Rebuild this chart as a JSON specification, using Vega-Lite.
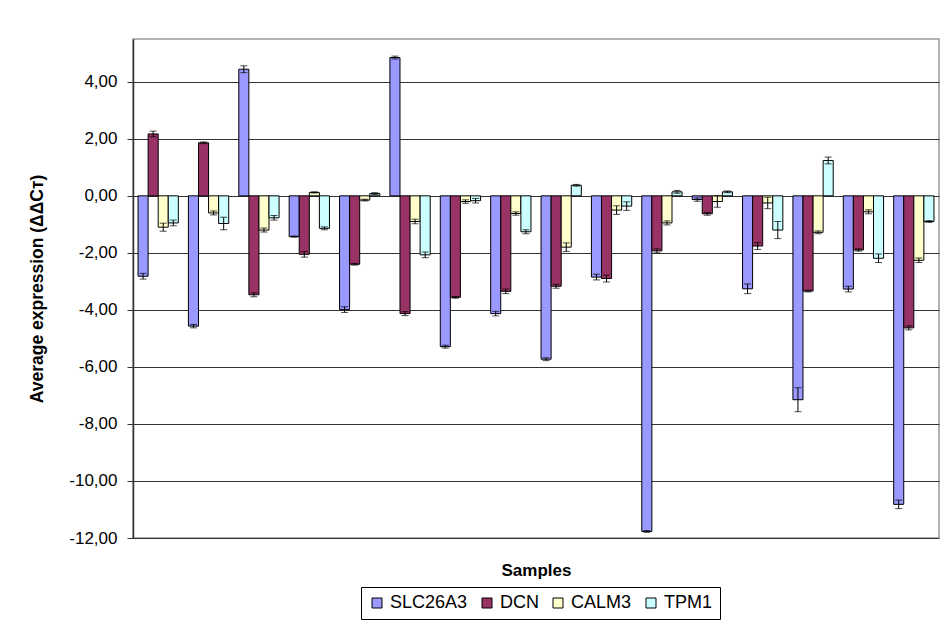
{
  "$schema": "https://vega.github.io/schema/vega-lite/v6.json",
  "width": 806,
  "height": 499,
  "autosize": "none",
  "padding": {"left": 133, "top": 39, "right": 1, "bottom": 94},
  "background": "white",
  "config": {
    "font": "Liberation Sans",
    "view": {"stroke": "#999999", "strokeWidth": 1.5}
  },
  "data": {
    "values": [
      {"s": "S01", "g": "SLC26A3", "v": -2.82, "lo": -2.92, "hi": -2.72},
      {"s": "S01", "g": "DCN", "v": 2.17, "lo": 2.07, "hi": 2.27},
      {"s": "S01", "g": "CALM3", "v": -1.10, "lo": -1.24, "hi": -0.96},
      {"s": "S01", "g": "TPM1", "v": -0.95, "lo": -1.05, "hi": -0.85},
      {"s": "S02", "g": "SLC26A3", "v": -4.57, "lo": -4.63, "hi": -4.51},
      {"s": "S02", "g": "DCN", "v": 1.86, "lo": 1.83, "hi": 1.89},
      {"s": "S02", "g": "CALM3", "v": -0.60, "lo": -0.67, "hi": -0.53},
      {"s": "S02", "g": "TPM1", "v": -0.97, "lo": -1.19, "hi": -0.75},
      {"s": "S03", "g": "SLC26A3", "v": 4.44, "lo": 4.32, "hi": 4.56},
      {"s": "S03", "g": "DCN", "v": -3.47, "lo": -3.54, "hi": -3.40},
      {"s": "S03", "g": "CALM3", "v": -1.20, "lo": -1.27, "hi": -1.13},
      {"s": "S03", "g": "TPM1", "v": -0.77, "lo": -0.85, "hi": -0.69},
      {"s": "S04", "g": "SLC26A3", "v": -1.43, "lo": -1.45, "hi": -1.41},
      {"s": "S04", "g": "DCN", "v": -2.05, "lo": -2.15, "hi": -1.95},
      {"s": "S04", "g": "CALM3", "v": 0.12, "lo": 0.10, "hi": 0.14},
      {"s": "S04", "g": "TPM1", "v": -1.14, "lo": -1.19, "hi": -1.09},
      {"s": "S05", "g": "SLC26A3", "v": -3.99, "lo": -4.09, "hi": -3.89},
      {"s": "S05", "g": "DCN", "v": -2.40, "lo": -2.43, "hi": -2.37},
      {"s": "S05", "g": "CALM3", "v": -0.15, "lo": -0.18, "hi": -0.12},
      {"s": "S05", "g": "TPM1", "v": 0.08, "lo": 0.05, "hi": 0.11},
      {"s": "S06", "g": "SLC26A3", "v": 4.85, "lo": 4.80, "hi": 4.90},
      {"s": "S06", "g": "DCN", "v": -4.13, "lo": -4.20, "hi": -4.06},
      {"s": "S06", "g": "CALM3", "v": -0.90, "lo": -0.98, "hi": -0.82},
      {"s": "S06", "g": "TPM1", "v": -2.07, "lo": -2.17, "hi": -1.97},
      {"s": "S07", "g": "SLC26A3", "v": -5.29, "lo": -5.34, "hi": -5.24},
      {"s": "S07", "g": "DCN", "v": -3.56, "lo": -3.59, "hi": -3.53},
      {"s": "S07", "g": "CALM3", "v": -0.20, "lo": -0.26, "hi": -0.14},
      {"s": "S07", "g": "TPM1", "v": -0.17, "lo": -0.25, "hi": -0.09},
      {"s": "S08", "g": "SLC26A3", "v": -4.13, "lo": -4.21, "hi": -4.05},
      {"s": "S08", "g": "DCN", "v": -3.35, "lo": -3.43, "hi": -3.27},
      {"s": "S08", "g": "CALM3", "v": -0.62, "lo": -0.68, "hi": -0.56},
      {"s": "S08", "g": "TPM1", "v": -1.26, "lo": -1.33, "hi": -1.19},
      {"s": "S09", "g": "SLC26A3", "v": -5.73, "lo": -5.78, "hi": -5.68},
      {"s": "S09", "g": "DCN", "v": -3.17, "lo": -3.24, "hi": -3.10},
      {"s": "S09", "g": "CALM3", "v": -1.80, "lo": -1.95, "hi": -1.65},
      {"s": "S09", "g": "TPM1", "v": 0.37, "lo": 0.34, "hi": 0.40},
      {"s": "S10", "g": "SLC26A3", "v": -2.85, "lo": -2.95, "hi": -2.75},
      {"s": "S10", "g": "DCN", "v": -2.90, "lo": -3.02, "hi": -2.78},
      {"s": "S10", "g": "CALM3", "v": -0.50, "lo": -0.65, "hi": -0.35},
      {"s": "S10", "g": "TPM1", "v": -0.36, "lo": -0.51, "hi": -0.21},
      {"s": "S11", "g": "SLC26A3", "v": -11.77, "lo": -11.80, "hi": -11.74},
      {"s": "S11", "g": "DCN", "v": -1.93, "lo": -2.00, "hi": -1.86},
      {"s": "S11", "g": "CALM3", "v": -0.95, "lo": -1.02, "hi": -0.88},
      {"s": "S11", "g": "TPM1", "v": 0.14, "lo": 0.09, "hi": 0.19},
      {"s": "S12", "g": "SLC26A3", "v": -0.13, "lo": -0.19, "hi": -0.07},
      {"s": "S12", "g": "DCN", "v": -0.63, "lo": -0.68, "hi": -0.58},
      {"s": "S12", "g": "CALM3", "v": -0.20, "lo": -0.40, "hi": 0.00},
      {"s": "S12", "g": "TPM1", "v": 0.14, "lo": 0.11, "hi": 0.17},
      {"s": "S13", "g": "SLC26A3", "v": -3.26, "lo": -3.43, "hi": -3.09},
      {"s": "S13", "g": "DCN", "v": -1.76, "lo": -1.88, "hi": -1.64},
      {"s": "S13", "g": "CALM3", "v": -0.25, "lo": -0.45, "hi": -0.05},
      {"s": "S13", "g": "TPM1", "v": -1.20, "lo": -1.50, "hi": -0.90},
      {"s": "S14", "g": "SLC26A3", "v": -7.15, "lo": -7.57, "hi": -6.73},
      {"s": "S14", "g": "DCN", "v": -3.34, "lo": -3.37, "hi": -3.31},
      {"s": "S14", "g": "CALM3", "v": -1.28, "lo": -1.33, "hi": -1.23},
      {"s": "S14", "g": "TPM1", "v": 1.24, "lo": 1.12, "hi": 1.36},
      {"s": "S15", "g": "SLC26A3", "v": -3.27, "lo": -3.37, "hi": -3.17},
      {"s": "S15", "g": "DCN", "v": -1.90, "lo": -1.94, "hi": -1.86},
      {"s": "S15", "g": "CALM3", "v": -0.56, "lo": -0.63, "hi": -0.49},
      {"s": "S15", "g": "TPM1", "v": -2.19, "lo": -2.34, "hi": -2.04},
      {"s": "S16", "g": "SLC26A3", "v": -10.82, "lo": -10.97, "hi": -10.67},
      {"s": "S16", "g": "DCN", "v": -4.63, "lo": -4.70, "hi": -4.56},
      {"s": "S16", "g": "CALM3", "v": -2.26, "lo": -2.34, "hi": -2.18},
      {"s": "S16", "g": "TPM1", "v": -0.90, "lo": -0.93, "hi": -0.87}
    ]
  },
  "encoding": {
    "x": {
      "field": "s",
      "type": "nominal",
      "sort": null,
      "scale": {"paddingInner": 0.2, "paddingOuter": 0.1},
      "axis": {
        "title": "Samples",
        "labels": false,
        "ticks": false,
        "domain": false,
        "grid": false,
        "titleFontSize": 17,
        "titleFontWeight": "bold",
        "titleColor": "black",
        "titlePadding": 24
      }
    },
    "xOffset": {"field": "g", "type": "nominal", "sort": ["SLC26A3", "DCN", "CALM3", "TPM1"]}
  },
  "layer": [
    {
      "mark": {"type": "bar", "stroke": "black", "strokeWidth": 1},
      "encoding": {
        "y": {
          "field": "v",
          "type": "quantitative",
          "scale": {"domain": [-12, 5.5], "nice": false},
          "axis": {
            "title": "Average expression (ΔΔCᴛ)",
            "titleFontSize": 17.5,
            "titleFontWeight": "bold",
            "titleColor": "black",
            "titlePadding": 22,
            "values": [-12, -10, -8, -6, -4, -2, 0, 2, 4],
            "labelExpr": "replace(replace(format(datum.value, '.2f'), '.', ','), '−', '-')",
            "labelFontSize": 17,
            "labelColor": "black",
            "labelPadding": 10,
            "tickSize": 6,
            "tickColor": "#333333",
            "domainColor": "#333333",
            "domainWidth": 1.5,
            "grid": true,
            "gridColor": "#333333",
            "gridWidth": 1.2,
            "gridOpacity": 1
          }
        },
        "color": {
          "field": "g",
          "type": "nominal",
          "sort": ["SLC26A3", "DCN", "CALM3", "TPM1"],
          "scale": {
            "domain": ["SLC26A3", "DCN", "CALM3", "TPM1"],
            "range": ["#9999FF", "#993366", "#FFFFCC", "#CCFFFF"]
          },
          "legend": {
            "title": null,
            "orient": "none",
            "direction": "horizontal",
            "legendX": 228,
            "legendY": 548,
            "symbolType": "square",
            "symbolSize": 100,
            "symbolStrokeColor": "black",
            "symbolStrokeWidth": 1,
            "symbolOpacity": 1,
            "labelFontSize": 18,
            "labelColor": "black",
            "labelOffset": 4,
            "columnPadding": 10,
            "padding": 7,
            "strokeColor": "black",
            "fillColor": "white"
          }
        }
      }
    },
    {
      "mark": {"type": "rule", "color": "black", "strokeWidth": 1},
      "encoding": {
        "y": {"field": "lo", "type": "quantitative"},
        "y2": {"field": "hi"}
      }
    },
    {
      "mark": {"type": "tick", "color": "black", "size": 7, "thickness": 1},
      "encoding": {"y": {"field": "lo", "type": "quantitative"}}
    },
    {
      "mark": {"type": "tick", "color": "black", "size": 7, "thickness": 1},
      "encoding": {"y": {"field": "hi", "type": "quantitative"}}
    }
  ]
}
